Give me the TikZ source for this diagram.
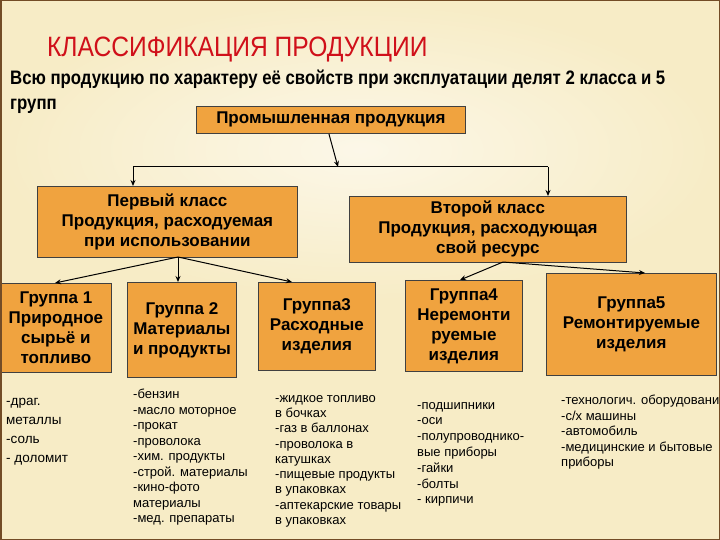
\documentclass[tikz,border=0pt]{standalone}
\usepackage{fontspec}
\setmainfont{Liberation Sans}
\usetikzlibrary{arrows.meta}
\definecolor{bg}{HTML}{F7ECC6}
\definecolor{boxfill}{HTML}{F0A33F}
\definecolor{ttl}{HTML}{D0101A}
\tikzset{
 box/.style={draw=black!75, fill=boxfill, line width=0.8pt, font=\bfseries\fontsize{17}{20}\selectfont, align=center, inner sep=0pt, anchor=north west},
 lst/.style={font=\fontsize{13.5}{15}\selectfont, align=left, anchor=north west, inner sep=0pt},
 arr/.style={-{Stealth[length=6pt,width=5pt]}, line width=1pt}
}
\begin{document}
\begin{tikzpicture}[x=1pt,y=-1pt]
\useasboundingbox (0,0) rectangle (720,540);
\fill[bg] (0,0) rectangle (720,540);
\shade[inner color=white!60!bg, outer color=bg] (0,0) rectangle (720,300);
\node[anchor=west, text=ttl, font=\fontsize{28}{30}\selectfont, xscale=0.88, transform shape] (title) at (44,50) {КЛАССИФИКАЦИЯ ПРОДУКЦИИ};
\node[anchor=north west, align=left, font=\bfseries\fontsize{19.5}{25}\selectfont, inner sep=0pt, xscale=0.86, transform shape] (sub) at (10,70) {Всю продукцию по характеру её свойств при эксплуатации делят 2 класса и 5\\групп};
\node[box, minimum width=269pt, minimum height=27pt] (prom) at (196,106) {Промышленная продукция};
\node[box, minimum width=260pt, minimum height=71pt] (c1) at (37,186) {Первый класс\\Продукция, расходуемая\\при использовании};
\node[box, minimum width=277pt, minimum height=66pt] (c2) at (349,196) {Второй класс\\Продукция, расходующая\\свой ресурс};
\node[box, minimum width=111pt, minimum height=89pt] (g1) at (0,283) {Группа 1\\Природное\\сырьё и\\топливо};
\node[box, minimum width=109pt, minimum height=95pt] (g2) at (127,282) {Группа 2\\Материалы\\и продукты};
\node[box, minimum width=117pt, minimum height=88pt] (g3) at (258,282) {Группа3\\Расходные\\изделия};
\node[box, minimum width=117pt, minimum height=91pt] (g4) at (405,280) {Группа4\\Неремонти\\руемые\\изделия};
\node[box, minimum width=170pt, minimum height=102pt] (g5) at (546,273) {Группа5\\Ремонтируемые\\изделия};
\coordinate (j) at (338,167);
\coordinate (jl) at (133,167);
\coordinate (jr) at (548,167);
\draw[arr] (prom.south) ++(-2,0) -- (j);
\draw[line width=1pt] (jl) -- (jr);
\draw[arr] (jl) -- (c1.north -| jl);
\draw[arr] (jr) -- (c2.north -| jr);
\coordinate (c1b) at (178,257);
\coordinate (c2b) at (503,262);
\draw[arr] (c1b) -- (55,283);
\draw[arr] (c1b) -- (178,282);
\draw[arr] (c1b) -- (292,282);
\draw[arr] (c2b) -- (460,280);
\draw[arr] (c2b) -- (645,273);
\node[lst, font=\fontsize{13.5}{19}\selectfont] (l1) at (6,398) {-драг.\\металлы\\-соль\\- доломит};
\node[lst, font=\fontsize{13}{15.5}\selectfont] (l2) at (133,389) {-бензин\\-масло моторное\\-прокат\\-проволока\\-хим. продукты\\-строй. материалы\\-кино-фото\\материалы\\-мед. препараты};
\node[lst, font=\fontsize{13}{15.3}\selectfont] (l3) at (275,395) {-жидкое топливо\\в бочках\\-газ в баллонах\\-проволока в\\катушках\\-пищевые продукты\\в упаковках\\-аптекарские товары\\в упаковках};
\node[lst, font=\fontsize{13}{15.8}\selectfont] (l4) at (417,402) {-подшипники\\-оси\\-полупроводнико-\\вые приборы\\-гайки\\-болты\\- кирпичи};
\node[lst, font=\fontsize{13}{15.5}\selectfont] (l5) at (561,395) {-технологич. оборудование\\-с/х машины\\-автомобиль\\-медицинские и бытовые\\приборы};
\fill[bg] (0,532) rectangle (720,540);
\draw[brown!60!black, line width=1.5pt] (0.75,0.75) rectangle (719.25,539.25);
\end{tikzpicture}
\end{document}
